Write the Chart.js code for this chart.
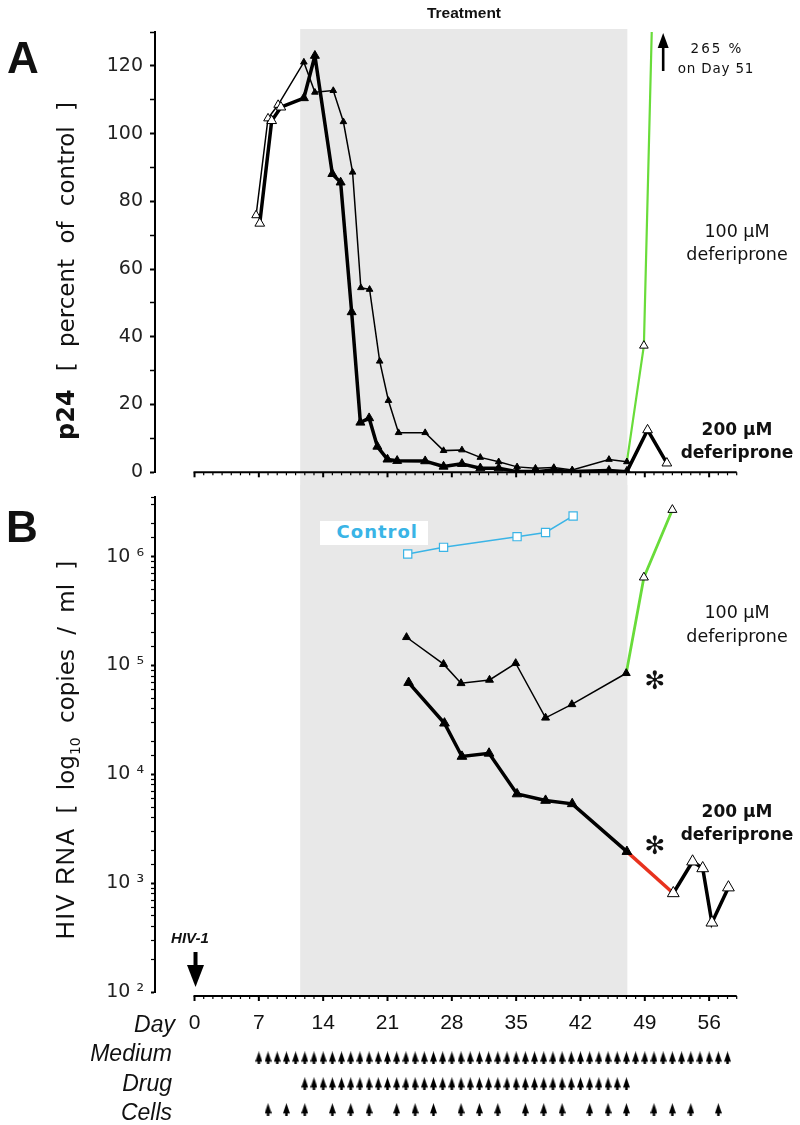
<!DOCTYPE html>
<html><head><meta charset="utf-8">
<script src="https://cdn.jsdelivr.net/npm/chart.js@4.4.0/dist/chart.umd.min.js"></script>
<style>
body{margin:0;background:#fff;}
#wrap{position:relative;width:800px;height:1125px;overflow:hidden;background:#fff;font-family:'DejaVu Sans',sans-serif;color:#111;}
canvas{position:absolute;left:0;}
.t{position:absolute;white-space:nowrap;transform:translate(-50%,-50%);line-height:1;}
.r{position:absolute;white-space:nowrap;transform:translate(-100%,-50%);line-height:1;}
.rot{position:absolute;white-space:nowrap;transform:translate(-50%,-50%) rotate(-90deg);line-height:1;}
.lab{font-family:'DejaVu Sans',sans-serif;font-size:17.5px;color:#111;text-align:center;}
.labb{font-family:'DejaVu Sans',sans-serif;font-size:17px;font-weight:bold;color:#111;text-align:center;}
.row{font-family:'Liberation Sans',Arial,sans-serif;font-style:italic;font-size:23px;color:#111;}
</style></head>
<body><div id="wrap">
<canvas id="cA" width="800" height="500" style="top:0"></canvas>
<canvas id="cB" width="800" height="570" style="top:470px"></canvas>
<canvas id="cC" width="800" height="85" style="top:1040px"></canvas>

<div class="t" style="left:23px;top:58px;font:bold 44px 'Liberation Sans',Arial,sans-serif;">A</div>
<div class="t" style="left:22px;top:527px;font:bold 44px 'Liberation Sans',Arial,sans-serif;">B</div>
<div class="t" style="left:464px;top:13px;font:bold 15.5px 'Liberation Sans',Arial,sans-serif;">Treatment</div>

<div class="rot" style="left:66px;top:271px;"><span style="font:bold 24px 'DejaVu Sans',sans-serif;">p24</span><span style="font:23px 'DejaVu Sans',sans-serif;margin-left:18px;word-spacing:8px;">[ percent of control ]</span></div>
<div class="rot" style="left:67px;top:750px;"><span style="font:25px 'Liberation Sans',Arial,sans-serif;letter-spacing:1.5px;">HIV RNA</span><span style="font:23px 'DejaVu Sans',sans-serif;margin-left:14px;word-spacing:7px;">[ log<sub style="font-size:14px;">10</sub> copies / ml ]</span></div>

<div class="t" style="left:717px;top:48px;font:13.5px 'DejaVu Sans',sans-serif;letter-spacing:2px;">265 %</div>
<div class="t" style="left:716px;top:68px;font:13.5px 'DejaVu Sans',sans-serif;letter-spacing:0.8px;">on Day 51</div>

<div class="t lab" style="left:737px;top:232px;">100 µM</div>
<div class="t lab" style="left:737px;top:255px;">deferiprone</div>
<div class="t labb" style="left:737px;top:429px;">200 µM</div>
<div class="t labb" style="left:737px;top:452px;">deferiprone</div>
<div class="t lab" style="left:737px;top:613px;">100 µM</div>
<div class="t lab" style="left:737px;top:637px;">deferiprone</div>
<div class="t labb" style="left:737px;top:811px;">200 µM</div>
<div class="t labb" style="left:737px;top:834px;">deferiprone</div>

<div class="t" style="left:655px;top:680px;font:25px 'DejaVu Sans',sans-serif;">✻</div>
<div class="t" style="left:655px;top:845px;font:25px 'DejaVu Sans',sans-serif;">✻</div>

<div style="position:absolute;left:320px;top:521px;width:98px;height:24px;padding-right:10px;background:#fff;text-align:right;line-height:24px;font:bold 18px 'DejaVu Sans',sans-serif;letter-spacing:1px;color:#3ab4e6;">Control</div>

<div class="t" style="left:190px;top:937px;font:italic bold 15px 'Liberation Sans',Arial,sans-serif;">HIV-1</div>

<div class="r row" style="left:175px;top:1024px;">Day</div>
<div class="r row" style="left:172px;top:1053px;">Medium</div>
<div class="r row" style="left:172px;top:1083px;">Drug</div>
<div class="r row" style="left:172px;top:1112px;">Cells</div>
</div>
<script>
// ---------- data ----------
const treatment = [11.5, 47.1];           // shaded treatment period (days)
const xTickDays = [0, 7, 14, 21, 28, 35, 42, 49, 56];

// Panel A: p24 (% of control)
const daysA100 = [6.7, 8.0, 9.1, 11.9, 13.1, 15.1, 16.2, 17.2, 18.1, 19.05, 20.15, 21.1, 22.2, 25.1, 27.1, 29.1, 31.1, 33.1, 35.1, 37.1, 39.1, 41.1, 45.1, 47.05, 48.9, 51];
const p24_100  = [75.9, 104.5, 108.5, 121.1, 112.2, 112.7, 103.5, 88.6, 54.5, 54.0, 32.8, 21.2, 11.7, 11.7, 6.4, 6.6, 4.4, 3.1, 1.6, 1.2, 1.4, 0.7, 3.8, 3.1, 37.4, 265];
const daysA200 = [7.1, 8.4, 9.4, 11.9, 13.1, 15.0, 15.9, 17.1, 18.05, 19.0, 19.9, 21.0, 22.05, 25.1, 27.1, 29.1, 31.1, 33.1, 35.1, 37.1, 39.1, 41.1, 45.1, 47.05, 49.3, 51.4];
const p24_200  = [73.5, 103.8, 107.8, 110.5, 123.0, 88.1, 85.6, 47.3, 14.7, 16.0, 7.6, 3.8, 3.4, 3.3, 1.7, 2.5, 1.2, 1.2, 0.2, 0.2, 0.7, 0.2, 0.5, 0.2, 12.5, 2.7];

// Panel B: HIV RNA copies/ml
const daysCtrl = [23.2, 27.1, 35.1, 38.2, 41.2];
const rnaCtrl  = [1.06e6, 1.22e6, 1.53e6, 1.67e6, 2.37e6];
const daysB100 = [23.07, 27.1, 29.0, 32.1, 34.95, 38.2, 41.06, 46.98, 48.9, 52.0];
const rna100   = [1.82e5, 1.03e5, 6.87e4, 7.38e4, 1.05e5, 3.31e4, 4.4e4, 8.5e4, 6.46e5, 2.7e6];
const daysB200 = [23.3, 27.2, 29.1, 32.05, 35.1, 38.2, 41.1, 47.05, 52.1, 54.2, 55.3, 56.3, 58.1];
const rna200   = [6.97e4, 2.95e4, 1.46e4, 1.56e4, 6.6e3, 5.75e3, 5.36e3, 1.95e3, 808, 1580, 1370, 434, 913];

// Schedule rows
const mediumDays = [7,8,9,10,11,12,13,14,15,16,17,18,19,20,21,22,23,24,25,26,27,28,29,30,31,32,33,34,35,36,37,38,39,40,41,42,43,44,45,46,47,48,49,50,51,52,53,54,55,56,57,58];
const drugDays   = [12,13,14,15,16,17,18,19,20,21,22,23,24,25,26,27,28,29,30,31,32,33,34,35,36,37,38,39,40,41,42,43,44,45,46,47];
const cellDays   = [8,10,12,15,17,19,22,24,26,29,31,33,36,38,40,43,45,47,50,52,54,57];
const rowMedium = 2, rowDrug = 1, rowCells = 0;

// ---------- helpers ----------
const GREEN = '#69dc3a', RED = '#e8321e', CYAN = '#3ab4e6';
const pts = (xs, ys) => xs.map((x, i) => ({x: x, y: ys[i]}));
const isOpen = c => !!(c.raw && (c.raw.x < 10.5 || c.raw.x > 48));
const X_MIN = -4.3, X_MAX = 59;

function shadePlugin(topFn, bottomFn) {
  return { id: 'shade', beforeDraw(chart) {
    const ctx = chart.ctx, xs = chart.scales.x;
    const x0 = xs.getPixelForValue(treatment[0]), x1 = xs.getPixelForValue(treatment[1]);
    const t = topFn(chart), b = bottomFn(chart);
    ctx.save(); ctx.fillStyle = '#e8e8e8'; ctx.fillRect(x0, t, x1 - x0, b - t); ctx.restore();
  }};
}
function dayAxisPlugin(offset) {
  return { id: 'dayaxis', afterDraw(chart) {
    const ctx = chart.ctx, xs = chart.scales.x;
    const y0 = chart.chartArea.bottom + offset;
    ctx.save(); ctx.strokeStyle = '#000';
    ctx.lineWidth = 2; ctx.beginPath();
    ctx.moveTo(xs.getPixelForValue(0) - 1, y0); ctx.lineTo(xs.getPixelForValue(X_MAX), y0); ctx.stroke();
    for (let d = 0; d <= 59; d++) {
      const x = xs.getPixelForValue(d), major = d % 7 === 0;
      ctx.lineWidth = major ? 2 : 1.2; ctx.beginPath();
      ctx.moveTo(x, y0); ctx.lineTo(x, y0 + (major ? 5 : 3)); ctx.stroke();
    }
    ctx.restore();
  }};
}
function upArrow(ctx, x, yTip, yEnd, headW, headH, stemW) {
  ctx.save(); ctx.fillStyle = '#000'; ctx.strokeStyle = '#000';
  ctx.lineWidth = stemW; ctx.beginPath(); ctx.moveTo(x, yEnd); ctx.lineTo(x, yTip + headH - 1); ctx.stroke();
  ctx.beginPath(); ctx.moveTo(x, yTip); ctx.lineTo(x - headW / 2, yTip + headH); ctx.lineTo(x + headW / 2, yTip + headH); ctx.closePath(); ctx.fill();
  ctx.restore();
}
function downArrow(ctx, x, yTip, yStart, headW, headH, stemW) {
  ctx.save(); ctx.fillStyle = '#000'; ctx.strokeStyle = '#000';
  ctx.lineWidth = stemW; ctx.beginPath(); ctx.moveTo(x, yStart); ctx.lineTo(x, yTip - headH + 1); ctx.stroke();
  ctx.beginPath(); ctx.moveTo(x, yTip); ctx.lineTo(x - headW / 2, yTip - headH); ctx.lineTo(x + headW / 2, yTip - headH); ctx.closePath(); ctx.fill();
  ctx.restore();
}
const baseOpts = { responsive: false, animation: false, devicePixelRatio: 1,
  plugins: { legend: { display: false }, tooltip: { enabled: false } } };

function tri(open, closed) {
  return {
    pointStyle: 'triangle',
    pointRadius: c => isOpen(c) ? open : closed,
    pointBackgroundColor: c => isOpen(c) ? '#fff' : '#000',
    pointBorderColor: '#000', pointBorderWidth: 1
  };
}

// ---------- Panel A ----------
new Chart(document.getElementById('cA'), {
  type: 'scatter',
  data: { datasets: [
    Object.assign({ data: pts(daysA200, p24_200), showLine: true, borderColor: '#000', borderWidth: 3.5,
      borderJoinStyle: 'round' }, tri(5.6, 5.2)),
    Object.assign({ data: pts(daysA100, p24_100), showLine: true, borderColor: '#000', borderWidth: 1.5,
      segment: { borderColor: c => c.p0.parsed.x > 46.5 ? GREEN : '#000',
                 borderWidth: c => c.p0.parsed.x > 46.5 ? 2.2 : 1.5 } }, tri(5, 3.8))
  ]},
  options: Object.assign({}, baseOpts, {
    layout: { padding: { left: 0, right: 63.3, top: 32, bottom: 27.7 } },
    scales: {
      x: { type: 'linear', min: X_MIN, max: X_MAX, display: false },
      y: { type: 'linear', min: 0, max: 130,
        afterFit: s => { s.width = 155; },
        ticks: { stepSize: 10, autoSkip: false, callback: v => (v % 20 === 0 ? String(v) : ''),
          font: { family: 'DejaVu Sans', size: 19 }, color: '#222', padding: 7 },
        grid: { drawOnChartArea: false, drawTicks: true, tickLength: 5,
          tickWidth: c => (c.tick && c.tick.value % 20 === 0) ? 2 : 1.5, tickColor: '#000' },
        border: { display: true, color: '#000', width: 2 } }
    }
  }),
  plugins: [shadePlugin(() => 29, ch => ch.height), dayAxisPlugin(0),
    { id: 'arrA', afterDraw(chart) {
        const x = chart.scales.x.getPixelForValue(51);
        upArrow(chart.ctx, x, 33, 71, 11, 15, 2.6);
    }}]
});

// ---------- Panel B ----------
const sup = { 2: '²', 3: '³', 4: '⁴', 5: '⁵', 6: '⁶' };
const B_TOP = 470;
new Chart(document.getElementById('cB'), {
  type: 'scatter',
  data: { datasets: [
    Object.assign({ data: pts(daysB200, rna200), showLine: true, borderColor: '#000', borderWidth: 3.5,
      segment: { borderColor: c => (c.p0.parsed.x > 46.5 && c.p0.parsed.x < 50) ? RED : '#000' } }, tri(6.8, 5.6)),
    Object.assign({ data: pts(daysB100, rna100), showLine: true, borderColor: '#000', borderWidth: 1.5,
      segment: { borderColor: c => c.p0.parsed.x > 46.5 ? GREEN : '#000',
                 borderWidth: c => c.p0.parsed.x > 46.5 ? 2.8 : 1.5 } }, tri(5.2, 4.6)),
    { data: pts(daysCtrl, rnaCtrl), showLine: true, borderColor: CYAN, borderWidth: 1.5,
      pointStyle: 'rect', pointRadius: 5.8, pointBackgroundColor: '#fff', pointBorderColor: CYAN, pointBorderWidth: 1.2 }
  ]},
  options: Object.assign({}, baseOpts, {
    layout: { padding: { left: 0, right: 63.3, top: 27, bottom: 0 } },
    scales: {
      x: { type: 'linear', min: X_MIN, max: X_MAX, position: 'bottom',
        afterFit: s => { s.height = 48; },
        afterBuildTicks: s => { s.ticks = xTickDays.map(v => ({ value: v })); },
        ticks: { autoSkip: false, maxRotation: 0, callback: v => String(v),
          font: { family: 'Liberation Sans', size: 21 }, color: '#111', padding: 19 },
        grid: { display: false, drawTicks: false }, border: { display: false } },
      y: { type: 'logarithmic', min: 100, max: 3.54e6,
        afterFit: s => { s.width = 155; },
        ticks: { autoSkip: false, callback: v => { const l = Math.log10(v); return Math.abs(l - Math.round(l)) < 1e-9 ? '10 ' + sup[Math.round(l)] : ''; },
          font: { family: 'DejaVu Sans', size: 19 }, color: '#222', padding: 7 },
        grid: { drawOnChartArea: false, drawTicks: true, tickLength: 4,
          tickWidth: c => { if (!c.tick) return 1; const l = Math.log10(c.tick.value); return Math.abs(l - Math.round(l)) < 1e-9 ? 2 : 1.2; },
          tickColor: '#000' },
        border: { display: true, color: '#000', width: 2 } }
    }
  }),
  plugins: [shadePlugin(() => 485 - B_TOP, ch => ch.chartArea.bottom + 4), dayAxisPlugin(4),
    { id: 'arrB', afterDraw(chart) {
        const x = chart.scales.x.getPixelForValue(0) + 1;
        downArrow(chart.ctx, x, 987 - B_TOP, 952 - B_TOP, 17, 22, 4);
    }}]
});

// ---------- Schedule rows ----------
function makeArrowGlyph(w, h) {
  const c = document.createElement('canvas'); c.width = w; c.height = h;
  const g = c.getContext('2d'); g.fillStyle = '#000'; g.beginPath();
  const hb = h * 0.78;
  g.moveTo(w / 2, 0); g.lineTo(w, hb); g.lineTo(w / 2 + 1.2, hb); g.lineTo(w / 2 + 1.2, h);
  g.lineTo(w / 2 - 1.2, h); g.lineTo(w / 2 - 1.2, hb); g.lineTo(0, hb);
  g.closePath(); g.fill();
  return c;
}
const glyph = makeArrowGlyph(7, 13);
const rowDs = (days, row) => ({ data: days.map(d => ({ x: d, y: row })), pointStyle: glyph, pointRadius: 4 });
new Chart(document.getElementById('cC'), {
  type: 'scatter',
  data: { datasets: [rowDs(mediumDays, rowMedium), rowDs(drugDays, rowDrug), rowDs(cellDays, rowCells)] },
  options: Object.assign({}, baseOpts, {
    layout: { padding: { left: 155, right: 63.3, top: 0, bottom: 0 } },
    scales: { x: { type: 'linear', min: X_MIN, max: X_MAX, display: false },
              y: { type: 'linear', min: -0.4, max: 2.5, display: false } }
  })
});
</script>
</body></html>
